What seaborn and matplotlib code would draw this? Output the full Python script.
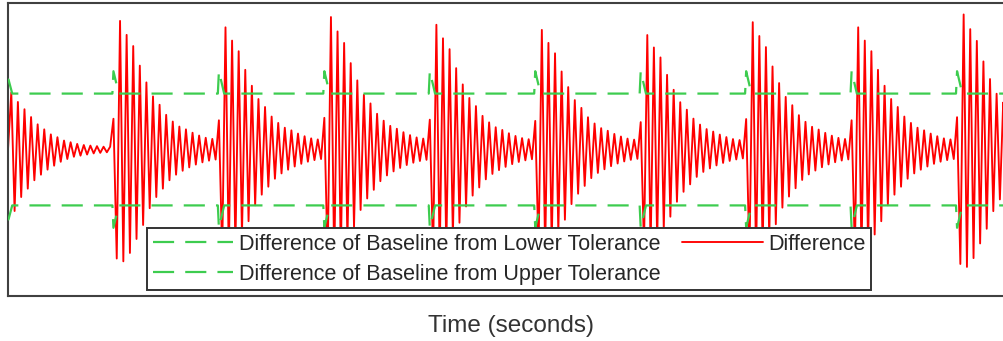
import numpy as np
import pandas as pd
import matplotlib
matplotlib.use("Agg")
import matplotlib.pyplot as plt
import seaborn as sns

sns.set_style("white")
plt.rcParams['font.family'] = ['Liberation Sans', 'DejaVu Sans']

# Signal (units: 1.0 = tolerance band half width)
burst_starts = [1, 2, 3, 4, 5, 6, 7, 8, 9]          # seconds
burst_scale = [1.0, 0.95, 1.03, 0.97, 0.93, 0.89, 0.99, 0.95, 1.05]
half_cycles_per_sec = 32

# half-cycle peaks of a typical burst
burst_peaks = [0.55, -1.95, 2.3, -2.0, 2.05, -1.85, 1.85, -1.6, 1.5, -1.35,
               1.2, -1.05, 0.95, -0.85, 0.8, -0.7, 0.62, -0.55, 0.5, -0.45,
               0.41, -0.38, 0.36, -0.32, 0.3, -0.27, 0.25, -0.23, 0.21, -0.2,
               0.19, -0.18]

# first (partial) burst starting at t = 0
first_peaks = [0.0, 1.02, -1.1, 0.85, -0.85, 0.72, -0.7, 0.58, -0.55, 0.45,
               -0.45, 0.36, -0.36, 0.27, -0.29, 0.22, -0.22, 0.16, -0.17, 0.13,
               -0.13, 0.1, -0.11, 0.08, -0.09, 0.07, -0.07, 0.06, -0.06, 0.05,
               -0.05, 0.05]

tol_level = 1.0
tol_spike = 0.4
first_spike = 0.25
t_end = 9.54

# build the difference series
t_vals, d_vals = [], []
for k, v in enumerate(first_peaks):
    t_vals.append(k / half_cycles_per_sec)
    d_vals.append(v)
for t0, s in zip(burst_starts, burst_scale):
    for k, v in enumerate(burst_peaks):
        t = t0 + k / half_cycles_per_sec
        if t > t_end:
            break
        t_vals.append(t)
        d_vals.append(v * s)
diff_df = pd.DataFrame({'t': t_vals, 'v': d_vals})

# tolerance lines with a short spike at each burst start
tt, up = [0.0, 0.005, 0.04], [tol_level + first_spike, tol_level + first_spike, tol_level]
for t0 in burst_starts:
    tt += [t0 - 0.01, t0, t0 + 0.05]
    up += [tol_level, tol_level + tol_spike, tol_level]
tt.append(t_end)
up.append(tol_level)
upper_df = pd.DataFrame({'t': tt, 'v': up})
lower_df = pd.DataFrame({'t': tt, 'v': [-u for u in up]})

fig = plt.figure(figsize=(10.04, 3.41), dpi=100)
ax = fig.add_axes([8 / 1004, 45 / 341, 1006 / 1004, 293 / 341])

green = '#3dcc4f'
sns.lineplot(data=lower_df, x='t', y='v', ax=ax, color=green, lw=1.6,
             estimator=None, sort=False, zorder=3,
             label='Difference of Baseline from Lower Tolerance')
sns.lineplot(data=upper_df, x='t', y='v', ax=ax, color=green, lw=1.6,
             estimator=None, sort=False, zorder=3,
             label='Difference of Baseline from Upper Tolerance')
sns.lineplot(data=diff_df, x='t', y='v', ax=ax, color='#ff0000', lw=1.35,
             estimator=None, sort=False, zorder=2, label='Difference')
for ln in ax.lines[:2]:
    ln.set_dashes((9.5, 5))
ax.lines[2].set_solid_joinstyle('round')

ax.set_xlim(0, t_end)
ax.set_ylim(-2.62, 2.62)
ax.set_xticks([])
ax.set_yticks([])
ax.set_ylabel('')
ax.set_xlabel('Time (seconds)', fontsize=17.5, color='#333333', labelpad=14)
for sp in ax.spines.values():
    sp.set_color('#404040')
    sp.set_linewidth(1.5)

h, l = ax.get_legend_handles_labels()
leg = ax.legend(h, l, ncol=2, loc='upper left',
                bbox_to_anchor=(147 / 1004, 1 - 228 / 341),
                bbox_transform=fig.transFigure, borderaxespad=0,
                fontsize=15.5, handlelength=3.75, handletextpad=0.25,
                columnspacing=1.0, borderpad=0.26, labelspacing=0.42,
                fancybox=False, framealpha=1, edgecolor='#333333')
leg.get_frame().set_linewidth(1.4)
for txt in leg.get_texts():
    txt.set_color('#262626')
for lh in leg.get_lines()[:2]:
    lh.set_dashes((9.5, 5))

fig.savefig('out.png', dpi=100)
